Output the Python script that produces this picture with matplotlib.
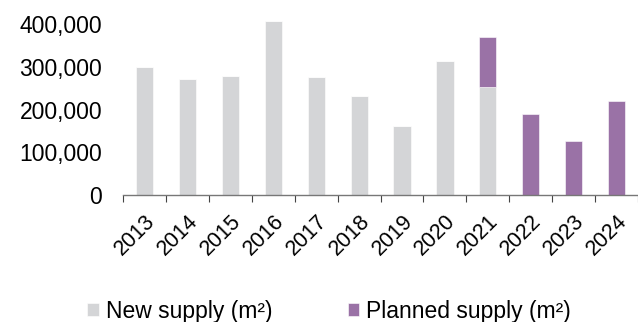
import numpy as np
import matplotlib.pyplot as plt
from matplotlib.ticker import FuncFormatter

plt.rcParams['font.family'] = ['Liberation Sans', 'DejaVu Sans']

years = ['2013', '2014', '2015', '2016', '2017', '2018',
         '2019', '2020', '2021', '2022', '2023', '2024']
new_supply = [300000, 271000, 278000, 407000, 275000, 232000,
              161000, 314000, 252000, 0, 0, 0]
planned_supply = [0, 0, 0, 0, 0, 0, 0, 0, 118000, 189000, 126000, 220000]

grey = '#D4D5D7'
purple = '#9A72A6'
fs = 16.5

fig = plt.figure(figsize=(6.38, 3.22), dpi=100)
ax = fig.add_axes([0.193, 0.394, 0.807, 0.598])

x = np.arange(len(years))
ax.bar(x, new_supply, width=0.4, color=grey, edgecolor='white', linewidth=0.4,
       label='New supply (m²)')
ax.bar(x, planned_supply, width=0.4, bottom=new_supply, color=purple,
       edgecolor='white', linewidth=0.4, label='Planned supply (m²)')

ax.set_xlim(-0.5, len(years) - 0.5)
ax.set_ylim(0, 450000)
ax.set_yticks([0, 100000, 200000, 300000, 400000])
ax.yaxis.set_major_formatter(FuncFormatter(lambda v, p: f'{int(v):,}'))
ax.tick_params(axis='y', length=0, labelsize=fs, pad=15)

# ticks between categories, labels at centres
ax.set_xticks(np.arange(-0.5, len(years), 1.0), minor=False)
ax.set_xticklabels([])
ax.set_xticks(x, minor=True)
ax.set_xticklabels(years, minor=True, rotation=45, ha='right',
                   rotation_mode='anchor', fontsize=15.5)
ax.tick_params(axis='x', which='major', length=5, width=0.8, color='#444444')
ax.tick_params(axis='x', which='minor', length=0, pad=11)

for s in ['top', 'right', 'left']:
    ax.spines[s].set_visible(False)
ax.spines['bottom'].set_color('#777777')
ax.spines['bottom'].set_linewidth(1.0)

fig.legend(loc='center', bbox_to_anchor=(0.516, 0.034), ncol=2, frameon=False,
           fontsize=fs, handlelength=0.5, handleheight=0.55, handletextpad=0.3,
           columnspacing=3.3, borderaxespad=0, borderpad=0)

fig.savefig('out.png', dpi=100)
